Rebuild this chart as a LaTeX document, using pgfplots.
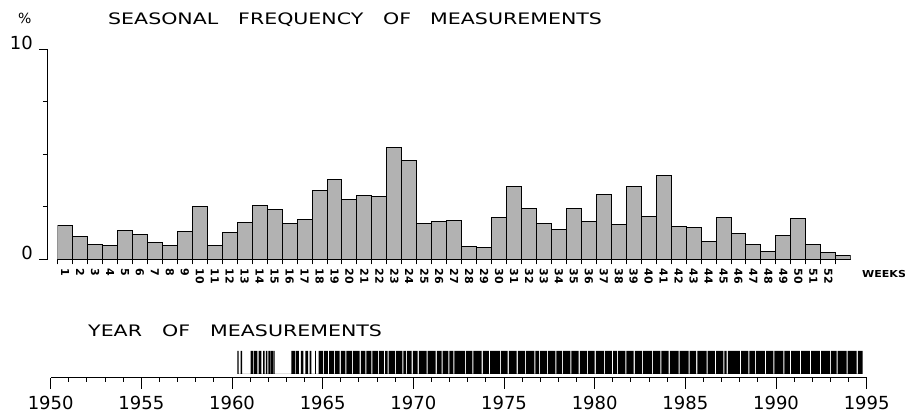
\documentclass[border=0pt]{standalone}
\usepackage{fontspec}
\setmainfont{DejaVu Sans}
\usepackage{graphicx}
\usepackage{pgfplots}
\usepackage{pgfplotstable}
\pgfplotsset{compat=1.18}

\newcommand{\ttl}[1]{{\fontsize{15.8}{16}\selectfont\scalebox{1.3}[1]{#1}}}

% share of measurements per week (%)
\pgfplotstableread{
week freq
1 1.64
2 1.11
3 0.70
4 0.66
5 1.36
6 1.20
7 0.81
8 0.69
9 1.35
10 2.53
11 0.66
12 1.30
13 1.76
14 2.55
15 2.40
16 1.72
17 1.89
18 3.28
19 3.80
20 2.84
21 3.05
22 3.01
23 5.31
24 4.73
25 1.70
26 1.82
27 1.85
28 0.61
29 0.57
30 1.98
31 3.46
32 2.45
33 1.70
34 1.41
35 2.45
36 1.80
37 3.11
38 1.66
39 3.47
40 2.06
41 4.00
42 1.58
43 1.50
44 0.88
45 2.02
46 1.23
47 0.70
48 0.38
49 1.15
50 1.95
51 0.71
52 0.34
53 0.21
}\weeks

% spans of years with measurements (23 = on, 0 = gap)
\pgfplotstableread[row sep=\\]{
year on \\
1960.29 23 \\ 1960.37 0 \\ 1960.48 23 \\ 1960.55 0 \\
1961.03 23 \\ 1961.16 0 \\ 1961.21 23 \\ 1961.40 0 \\ 1961.47 23 \\ 1961.62 0 \\ 1961.71 23 \\ 1961.80 0 \\
1961.86 23 \\ 1961.95 0 \\ 1962.00 23 \\ 1962.10 0 \\ 1962.13 23 \\ 1962.26 0 \\ 1962.30 23 \\ 1962.35 0 \\
1963.27 23 \\ 1963.46 0 \\ 1963.51 23 \\ 1963.68 0 \\ 1963.79 23 \\ 1963.93 0 \\ 1964.04 23 \\ 1964.19 0 \\
1964.28 23 \\ 1964.37 0 \\ 1964.58 23 \\ 1964.63 0 \\
1964.78 23 \\ 1965.02 0 \\ 1965.08 23 \\ 1965.29 0 \\ 1965.35 23 \\ 1965.63 0 \\ 1965.69 23 \\ 1965.94 0 \\
1966.00 23 \\ 1966.25 0 \\ 1966.31 23 \\ 1966.62 0 \\ 1966.68 23 \\ 1967.04 0 \\ 1967.10 23 \\ 1967.35 0 \\
1967.41 23 \\ 1967.68 0 \\ 1967.74 23 \\ 1968.05 0 \\ 1968.11 23 \\ 1968.38 0 \\ 1968.44 23 \\ 1968.58 0 \\
1968.64 23 \\ 1968.99 0 \\ 1969.05 23 \\ 1969.39 0 \\ 1969.45 23 \\ 1969.58 0 \\ 1969.64 23 \\ 1969.91 0 \\
1969.97 23 \\ 1970.24 0 \\ 1970.30 23 \\ 1970.73 0 \\ 1970.79 23 \\ 1971.23 0 \\ 1971.29 23 \\ 1971.56 0 \\
1971.62 23 \\ 1971.93 0 \\ 1971.99 23 \\ 1972.20 0 \\ 1972.26 23 \\ 1972.85 0 \\ 1972.91 23 \\ 1973.25 0 \\
1973.31 23 \\ 1973.77 0 \\ 1973.83 23 \\ 1974.17 0 \\ 1974.23 23 \\ 1974.78 0 \\ 1974.84 23 \\ 1975.20 0 \\
1975.26 23 \\ 1975.70 0 \\ 1975.76 23 \\ 1976.16 0 \\ 1976.22 23 \\ 1976.67 0 \\ 1976.73 23 \\ 1976.93 0 \\
1976.99 23 \\ 1977.37 0 \\ 1977.43 23 \\ 1977.83 0 \\ 1977.89 23 \\ 1978.20 0 \\ 1978.26 23 \\ 1978.66 0 \\
1978.72 23 \\ 1979.12 0 \\ 1979.18 23 \\ 1979.58 0 \\ 1979.64 23 \\ 1980.00 0 \\ 1980.06 23 \\ 1980.50 0 \\
1980.56 23 \\ 1980.95 0 \\ 1981.01 23 \\ 1981.23 0 \\ 1981.29 23 \\ 1981.69 0 \\ 1981.75 23 \\ 1982.15 0 \\
1982.21 23 \\ 1982.61 0 \\ 1982.67 23 \\ 1983.16 0 \\ 1983.22 23 \\ 1983.62 0 \\ 1983.68 23 \\ 1984.08 0 \\
1984.14 23 \\ 1984.63 0 \\ 1984.69 23 \\ 1985.18 0 \\ 1985.24 23 \\ 1985.60 0 \\ 1985.66 23 \\ 1986.17 0 \\
1986.23 23 \\ 1986.63 0 \\ 1986.69 23 \\ 1987.09 0 \\ 1987.15 23 \\ 1987.28 0 \\ 1987.34 23 \\ 1988.01 0 \\
1988.07 23 \\ 1988.47 0 \\ 1988.53 23 \\ 1988.84 0 \\ 1988.90 23 \\ 1989.39 0 \\ 1989.45 23 \\ 1989.85 0 \\
1989.91 23 \\ 1990.40 0 \\ 1990.46 23 \\ 1990.77 0 \\ 1990.83 23 \\ 1991.32 0 \\ 1991.38 23 \\ 1991.87 0 \\
1991.93 23 \\ 1992.42 0 \\ 1992.48 23 \\ 1992.98 0 \\ 1993.04 23 \\ 1993.34 0 \\ 1993.40 23 \\ 1993.89 0 \\
1993.95 23 \\ 1994.45 0 \\ 1994.51 23 \\ 1994.78 0 \\
}\years

\begin{document}
\begin{tikzpicture}
\useasboundingbox (0,0) rectangle (905pt,420pt);

% titles
\node[anchor=base west,inner sep=0pt] at (18pt,396pt) {\fontsize{14}{14}\selectfont\%};
\node[anchor=base west,inner sep=0pt] at (108pt,395pt) {\ttl{SEASONAL}};
\node[anchor=base west,inner sep=0pt] at (238pt,395pt) {\ttl{FREQUENCY}};
\node[anchor=base west,inner sep=0pt] at (383pt,395pt) {\ttl{OF}};
\node[anchor=base west,inner sep=0pt] at (430pt,395pt) {\ttl{MEASUREMENTS}};
\node[anchor=base west,inner sep=0pt] at (862pt,142pt) {\fontsize{9.6}{10}\selectfont\bfseries\scalebox{1.15}[1]{WEEKS}};
\node[anchor=base west,inner sep=0pt] at (88pt,83.5pt) {\ttl{YEAR}};
\node[anchor=base west,inner sep=0pt] at (162pt,83.5pt) {\ttl{OF}};
\node[anchor=base west,inner sep=0pt] at (210pt,83.5pt) {\ttl{MEASUREMENTS}};

% weekly histogram
\begin{axis}[at={(57.7pt,160.5pt)},anchor=south west,scale only axis,
  width=793pt,height=210pt,xmin=0.5,xmax=53.5,ymin=0,ymax=10,
  axis x line=bottom,axis y line=left,axis y line shift=9.7pt,
  axis line style={-,line width=1pt},
  tick align=outside,major tick length=9pt,minor tick length=5pt,
  tick style={black,line width=1pt},
  xtick={1,...,52},minor xtick={0.5,1.5,...,52.5},
  major x tick style={draw=none},
  ytick={0,10},minor ytick={2.5,5,7.5},
  /pgf/number format/assume math mode=true,
  xticklabel style={rotate=-90,anchor=west,inner sep=0pt,
    font=\fontsize{11}{11}\selectfont\bfseries},
  yticklabel style={anchor=south east,inner sep=0pt,xshift=-6pt,
    font=\fontsize{18}{18}\selectfont}]
\addplot[ybar,bar width=1,fill=black!30,draw=black,line width=1pt]
  table[x=week,y=freq]{\weeks};
\end{axis}

% years strip
\begin{axis}[at={(50.7pt,42pt)},anchor=south west,scale only axis,
  width=816pt,height=27pt,xmin=1950,xmax=1995,ymin=-4,ymax=23,
  axis x line=bottom,axis y line=none,ytick=\empty,
  axis line style={-,line width=1pt},
  tick align=outside,major tick length=11pt,minor tick length=4pt,
  tick style={black,line width=1pt},
  xtick={1950,1955,...,1995},minor x tick num=4,
  /pgf/number format/1000 sep={},
  /pgf/number format/assume math mode=true,
  xticklabel style={anchor=north,inner sep=0pt,yshift=-7pt,
    font=\fontsize{18}{18}\selectfont}]
\addplot[ybar interval,fill=black,draw=none] table[x=year,y=on]{\years};
\end{axis}
\end{tikzpicture}
\end{document}
